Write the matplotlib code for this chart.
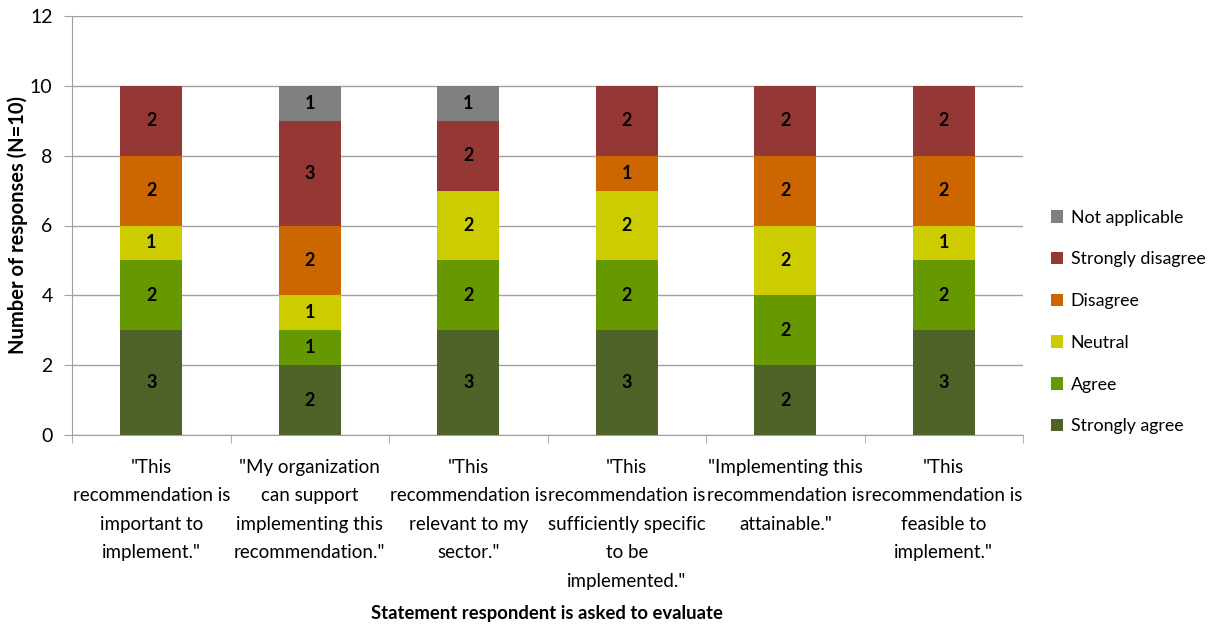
import matplotlib
matplotlib.use("Agg")
import matplotlib.pyplot as plt
import numpy as np

plt.rcParams['font.family'] = ['Lato', 'DejaVu Sans']

categories = ['"This\nrecommendation is\nimportant to\nimplement."',
              '"My organization\ncan support\nimplementing this\nrecommendation."',
              '"This\nrecommendation is\nrelevant to my\nsector."',
              '"This\nrecommendation is\nsufficiently specific\nto be\nimplemented."',
              '"Implementing this\nrecommendation is\nattainable."',
              '"This\nrecommendation is\nfeasible to\nimplement."']

series_names = ['Strongly agree', 'Agree', 'Neutral', 'Disagree', 'Strongly disagree', 'Not applicable']
strongly_agree = [3, 2, 3, 3, 2, 3]
agree = [2, 1, 2, 2, 2, 2]
neutral = [1, 1, 2, 2, 2, 1]
disagree = [2, 2, 0, 1, 2, 2]
strongly_disagree = [2, 3, 2, 2, 2, 2]
not_applicable = [0, 1, 1, 0, 0, 0]
series_values = [strongly_agree, agree, neutral, disagree, strongly_disagree, not_applicable]
colors = ['#4F6228', '#669900', '#CCCC00', '#CC6600', '#953735', '#808080']

fig = plt.figure(figsize=(12.17, 6.29), dpi=100)
ax = fig.add_axes([72/1217, 1-435/629, (1023-72)/1217, (435-16)/629])

x = np.arange(len(categories))
bottom = np.zeros(len(categories))
handles = []
for name, vals, col in zip(series_names, series_values, colors):
    vals = np.array(vals, dtype=float)
    bars = ax.bar(x, vals, width=0.39, bottom=bottom, color=col, label=name, zorder=3)
    handles.append(bars)
    for xi, b, v in zip(x, bottom, vals):
        if v > 0:
            ax.text(xi, b + v/2, f"{int(v)}", ha='center', va='center',
                    fontsize=13, fontweight='bold', color='black', zorder=4)
    bottom += vals

ax.set_xlim(-0.5, len(categories) - 0.5)
ax.set_ylim(0, 12)
ax.set_yticks(range(0, 13, 2))
ax.yaxis.grid(True, color='#A0A0A0', linewidth=1, zorder=0)
ax.set_axisbelow(True)
for s in ['top', 'right']:
    ax.spines[s].set_visible(False)
for s in ['left', 'bottom']:
    ax.spines[s].set_color('#A0A0A0')
ax.tick_params(axis='y', colors='#A0A0A0', labelcolor='black', labelsize=14, length=6, pad=8)
ax.set_xticks(x)
ax.set_xticklabels(categories, fontsize=13.5, linespacing=1.83, va='top')
ax.set_xticks(np.arange(-0.5, len(categories), 1.0), minor=True)
ax.tick_params(axis='x', which='major', length=0, pad=17)
ax.tick_params(axis='x', which='minor', length=6, color='#A0A0A0')

ax.set_ylabel('Number of responses (N=10)', fontsize=14.5, fontweight='bold')
ax.yaxis.set_label_coords((28-72)/951, 0.5)
fig.text(547/1217, 1-613/629, 'Statement respondent is asked to evaluate', ha='center', va='center',
         fontsize=13.3, fontweight='bold')

leg = fig.legend(handles[::-1], series_names[::-1], loc='center left',
                 bbox_to_anchor=(1035/1217, 1-322/629), frameon=False, fontsize=12.8,
                 handlelength=0.7, handleheight=0.7, handletextpad=0.4, labelspacing=1.45)

fig.savefig('out.png', dpi=100)
